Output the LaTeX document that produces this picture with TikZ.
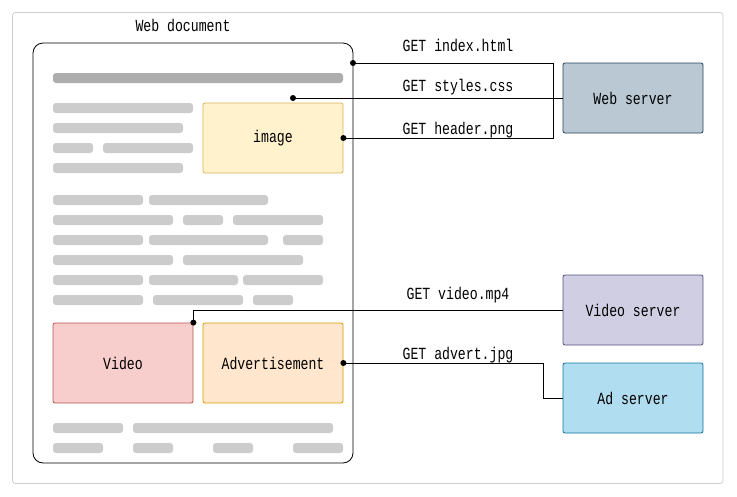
\documentclass[tikz,border=0pt]{standalone}
\usepackage{fontspec}
\setmonofont[FakeStretch=0.775]{Liberation Mono}
\definecolor{framec}{HTML}{CCCCCC}
\definecolor{barc}{HTML}{CCCCCC}
\definecolor{headc}{HTML}{ADADAD}
\definecolor{imgfill}{HTML}{FFF2CC}\definecolor{imgdraw}{HTML}{D6B656}
\definecolor{vidfill}{HTML}{F8CECC}\definecolor{viddraw}{HTML}{B85450}
\definecolor{adfill}{HTML}{FFE6CC}\definecolor{addraw}{HTML}{D79B00}
\definecolor{wsfill}{HTML}{BAC8D3}\definecolor{wsdraw}{HTML}{23445D}
\definecolor{vsfill}{HTML}{D0CEE2}\definecolor{vsdraw}{HTML}{56517E}
\definecolor{asfill}{HTML}{B1DDF0}\definecolor{asdraw}{HTML}{10739E}
\begin{document}
\begin{tikzpicture}[x=1pt,y=-1pt,
  font=\ttfamily\fontsize{17}{19}\selectfont,
  bar/.style={fill=barc,draw=none,rounded corners=3pt},
  hbar/.style={fill=headc,draw=none,rounded corners=3pt},
  box/.style={draw,rounded corners=2pt,minimum width=140pt,inner sep=0pt,line width=0.8pt},
  srvbox/.style={box,minimum height=70pt},
  pdot/.style={circle,fill=black,inner sep=0pt,minimum size=6pt},
  wire/.style={line width=0.8pt},
  lbl/.style={inner sep=0pt,anchor=base}]
\useasboundingbox (0,0) rectangle (737,496);
\draw[framec,line width=0.8pt,rounded corners=3pt] (12.5,12.5) rectangle (723,483.5);
\node[lbl] (doclbl) at (183,31) {Web document};
\node[draw,line width=0.8pt,rounded corners=10pt,minimum width=320pt,minimum height=420pt,inner sep=0pt] (doc) at (193,253) {};
% text bars
\fill[hbar] (53,73) rectangle (343,83);
\foreach \y/\xs in {103/{53/193},123/{53/183},143/{53/93,103/193},163/{53/183},
  195/{53/143,149/268},215/{53/173,183/223,233/323},235/{53/143,149/268,283/323},
  255/{53/173,183/303},275/{53/143,149/238,243/323},295/{53/143,153/243,253/293},
  423/{53/123,133/333},443/{53/103,133/173,213/253,293/343}}{
  \foreach \a/\b in \xs {\fill[bar] (\a,\y) rectangle (\b,\y+10);}
}
% content boxes
\node[box,minimum height=70pt,fill=imgfill,draw=imgdraw] (image) at (273,138) {image};
\node[box,minimum height=80pt,fill=vidfill,draw=viddraw] (video) at (123,363) {Video};
\node[box,minimum height=80pt,fill=adfill,draw=addraw] (advert) at (273,363) {Advertisement};
% servers
\node[srvbox,fill=wsfill,draw=wsdraw] (websrv) at (633,98) {Web server};
\node[srvbox,fill=vsfill,draw=vsdraw] (vidsrv) at (633,310) {Video server};
\node[srvbox,fill=asfill,draw=asdraw] (adsrv) at (633,398) {Ad server};
% anchor points
\coordinate (d1) at (353,63);
\coordinate (d2) at (293,98);
\coordinate (j1) at (553,98);
\coordinate (j2) at (543,398);
% connectors
\draw[wire] (websrv.west) -- (d2);
\draw[wire] (j1) |- (d1);
\draw[wire] (j1) |- (image.east);
\draw[wire] (vidsrv.west) -| (video.north east);
\draw[wire] (advert.east) -| (j2) -- (adsrv.west);
\node[pdot] at (d1) {};
\node[pdot] at (d2) {};
\node[pdot] at (image.east) {};
\node[pdot] at (video.north east) {};
\node[pdot] at (advert.east) {};
% labels
\node[lbl] (l1) at (458,51) {GET index.html};
\node[lbl] (l2) at (458,91) {GET styles.css};
\node[lbl] (l3) at (458,134) {GET header.png};
\node[lbl] (l4) at (458,299.5) {GET video.mp4};
\node[lbl] (l5) at (458,359) {GET advert.jpg};
\end{tikzpicture}
\end{document}
